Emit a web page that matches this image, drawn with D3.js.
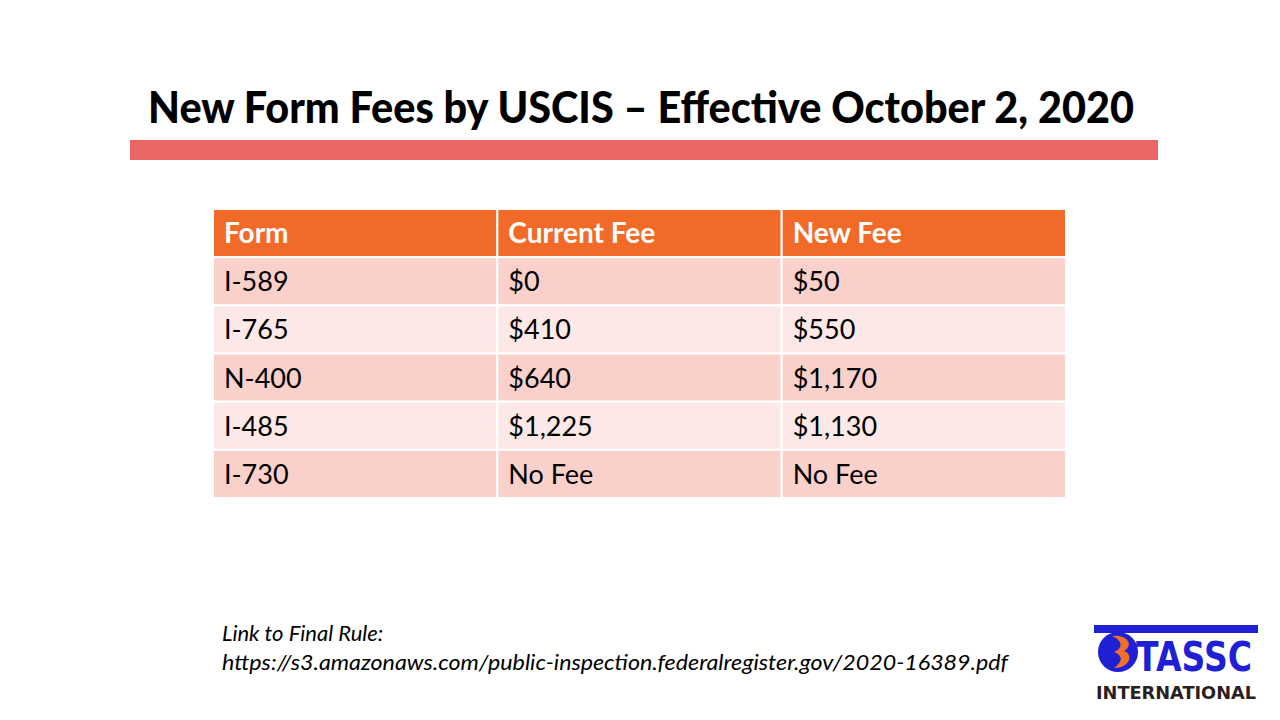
<!DOCTYPE html>
<html>
<head>
<meta charset="utf-8">
<script src="https://cdn.jsdelivr.net/npm/d3@7"></script>
<style>
  html, body { margin: 0; padding: 0; background: #fff; }
  svg { display: block; }
</style>
</head>
<body>
<svg id="chart"></svg>
<script>
// data
const columns = ['Form', 'Current Fee', 'New Fee'];
const forms = ['I-589', 'I-765', 'N-400', 'I-485', 'I-730'];
const currentFees = ['$0', '$410', '$640', '$1,225', 'No Fee'];
const newFees = ['$50', '$550', '$1,170', '$1,130', 'No Fee'];
const titleText = 'New Form Fees by USCIS \u2013 Effective October 2, 2020';
const noteLines = ['Link to Final Rule:', 'https://s3.amazonaws.com/public-inspection.federalregister.gov/2020-16389.pdf'];

const W = 1280, H = 720;
const font = 'Lato, "Open Sans", sans-serif';
const svg = d3.select('#chart').attr('width', W).attr('height', H);

// titre
svg.append('text')
  .attr('x', 641).attr('y', 123)
  .attr('text-anchor', 'middle')
  .attr('font-family', font)
  .attr('font-weight', 900)
  .attr('font-size', 43)
  .attr('fill', '#000')
  .attr('textLength', 986).attr('lengthAdjust', 'spacingAndGlyphs')
  .text(titleText);

svg.append('rect')
  .attr('x', 130).attr('y', 140).attr('width', 1028).attr('height', 20)
  .attr('fill', '#ea6766');

// table
const rows = [columns].concat(forms.map((f, i) => [f, currentFees[i], newFees[i]]));
const x = d3.scaleBand().domain(d3.range(columns.length)).range([213, 1066]);
const y = d3.scaleBand().domain(d3.range(rows.length)).range([209, 498]);

const rowG = svg.selectAll('g.row')
  .data(rows)
  .enter()
  .append('g')
  .attr('class', 'row')
  .attr('transform', (d, i) => `translate(0,${y(i)})`);

rowG.selectAll('rect')
  .data((d, i) => d.map(v => ({ v, r: i })))
  .enter()
  .append('rect')
  .attr('x', (d, j) => x(j))
  .attr('y', 0)
  .attr('width', x.bandwidth())
  .attr('height', y.bandwidth())
  .attr('fill', d => d.r === 0 ? '#f26a28' : (d.r % 2 ? '#f9d0ca' : '#fce8e6'))
  .attr('stroke', '#fff')
  .attr('stroke-width', 2);

rowG.selectAll('text')
  .data((d, i) => d.map(v => ({ v, r: i })))
  .enter()
  .append('text')
  .attr('x', (d, j) => x(j) + 11)
  .attr('y', y.bandwidth() / 2 + 10)
  .attr('font-family', font)
  .attr('font-size', d => d.r === 0 ? 28 : 27)
  .attr('font-weight', d => d.r === 0 ? 'bold' : 'normal')
  .attr('fill', d => d.r === 0 ? '#fff' : '#000')
  .text(d => d.v);

// note
svg.selectAll('text.note')
  .data(noteLines)
  .enter()
  .append('text')
  .attr('class', 'note')
  .attr('x', 222)
  .attr('y', (d, i) => 641 + i * 29)
  .attr('font-family', font)
  .attr('font-style', 'italic')
  .attr('font-size', 22)
  .attr('fill', '#000')
  .text(d => d)
  .each(function(d, i) { if (i === 1) d3.select(this).attr('textLength', 786).attr('lengthAdjust', 'spacingAndGlyphs'); });

// logo
const logo = svg.append('g');
const blue = '#1f1fd6';
logo.append('rect').attr('x', 1094).attr('y', 625).attr('width', 164).attr('height', 8).attr('fill', blue);
logo.append('circle').attr('cx', 1118).attr('cy', 652).attr('r', 20).attr('fill', blue);
logo.append('path')
  .attr('d', 'M1112,636 C1128,634 1134,646 1124,651 C1134,654 1130,668 1114,668 C1122,662 1124,656 1114,652 C1124,648 1122,640 1112,636 Z')
  .attr('fill', '#f07028');
logo.append('text')
  .attr('x', 1136).attr('y', 671)
  .attr('font-family', '"DejaVu Sans", sans-serif')
  .attr('font-weight', 'bold')
  .attr('font-size', 40)
  .attr('fill', blue)
  .attr('textLength', 116).attr('lengthAdjust', 'spacingAndGlyphs')
  .text('TASSC');
logo.append('text')
  .attr('x', 1096).attr('y', 699)
  .attr('font-family', '"DejaVu Sans", sans-serif')
  .attr('font-weight', 'bold')
  .attr('font-size', 17)
  .attr('fill', '#2a1e1e')
  .attr('textLength', 160).attr('lengthAdjust', 'spacingAndGlyphs')
  .text('INTERNATIONAL');
</script>
</body>
</html>
